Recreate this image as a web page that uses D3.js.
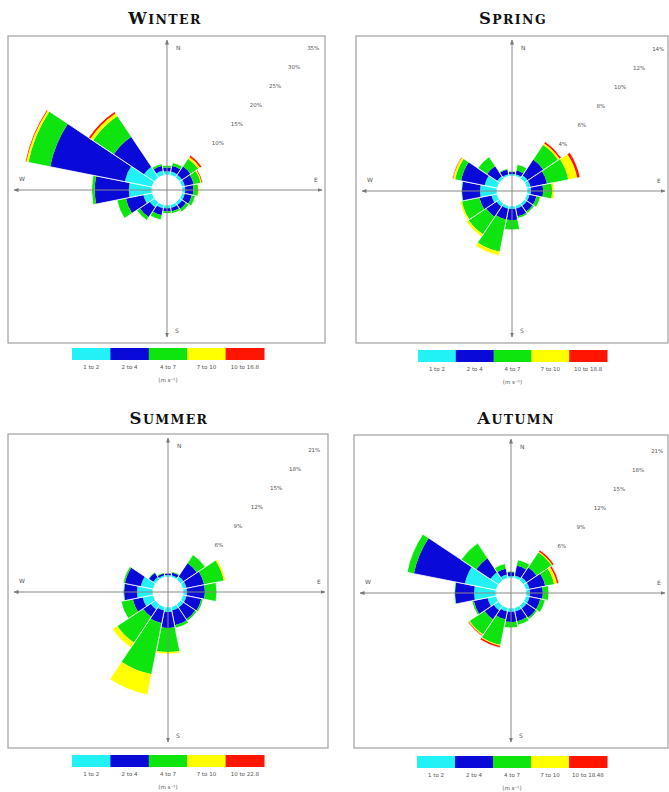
<!DOCTYPE html>
<html>
<head>
<meta charset="utf-8">
<script src="https://cdn.jsdelivr.net/npm/d3@7"></script>
<style>
  html, body { margin: 0; padding: 0; background: #fff; }
  svg { display: block; }
</style>
</head>
<body>
<svg id="chart" width="669" height="792"></svg>
<script>
// ---------------- DATA ----------------
const directions = ["N","NNE","NE","ENE","E","ESE","SE","SSE","S","SSW","SW","WSW","W","WNW","NW","NNW"];
const speedClasses = ["1 to 2","2 to 4","4 to 7","7 to 10"];
const classColors = ["#22f2f6","#0a0ad8","#0ee40e","#ffff00","#ff1500"];

// frequency (%) per direction, per speed class [1-2, 2-4, 4-7, 7-10, >=10]
const winter = [
  [0.7,0.7,0.4,0,0],[0.7,1.1,0.6,0,0],[0.6,1.9,1.7,0.4,0.4],[0.6,1.7,1.3,0.2,0.2],
  [0.6,1.5,0.9,0.2,0],[0.6,1.3,0.7,0,0],[0.6,0.9,0.6,0,0],[0.6,0.7,0.4,0,0],
  [0.6,0.6,0.4,0,0],[0.7,1.3,0.9,0,0],[1.1,2.2,0.7,0,0],[1.7,3.3,1.7,0,0],
  [4.3,6.3,0.6,0,0],[5.2,14.1,4.1,0.4,0.2],[2.4,6.7,4.6,0.6,0.4],[0.9,0.9,0.4,0,0]
];
const spring = [
  [0.15,0.15,0.07,0,0],[0.15,0.3,0.45,0,0],[0.3,1.4,1.3,0.15,0.15],[0.3,1.25,1.6,0.67,0.22],
  [0.3,0.9,0.67,0.15,0],[0.22,0.52,0.3,0,0],[0.22,0.52,0.15,0,0],[0.22,0.6,0.15,0,0],
  [0.22,0.82,0.74,0,0],[0.22,0.82,2.44,0.3,0],[0.3,0.9,1.55,0.22,0],[0.45,0.9,1.33,0.15,0],
  [1.26,1.33,0.07,0,0],[0.96,1.78,0.45,0.15,0.07],[0.22,0.9,0.82,0,0],[0.15,0.37,0.07,0,0]
];
const summer = [
  [0.22,0.22,0,0,0],[0.22,0.33,0.11,0,0],[0.44,1.78,1.11,0,0],[0.44,2.0,2.22,0.22,0],
  [0.44,2.0,1.33,0,0],[0.44,1.67,0.22,0,0],[0.44,1.56,0.22,0,0],[0.44,1.67,0.33,0,0],
  [0.56,1.78,2.67,0.22,0],[0.44,1.44,5.78,2.33,0],[0.67,1.0,3.44,0.67,0],[1.22,1.11,1.33,0,0],
  [1.78,1.44,0.11,0,0],[1.44,1.78,0.22,0,0],[0.33,0.56,0.11,0,0],[0.22,0.22,0.11,0,0]
];
const autumn = [
  [0.22,0.44,0.11,0,0],[0.33,1.11,0.67,0,0],[0.44,1.33,2.0,0.11,0.22],[0.44,1.78,1.0,0.33,0.22],
  [0.44,1.44,0.67,0,0],[0.44,1.22,0.56,0,0],[0.44,1.22,0.22,0,0],[0.44,1.11,0.44,0,0],
  [0.44,1.11,0.67,0,0],[0.44,0.89,2.89,0.11,0.22],[0.67,1.22,2.0,0.11,0.11],[1.0,1.56,0.22,0,0],
  [2.44,2.11,0.11,0,0],[3.56,5.78,0.78,0,0],[1.11,1.89,2.0,0,0],[0.44,0.67,0.56,0,0]
];

const seasonNames = ["Winter","Spring","Summer","Autumn"];
const seasonData = [winter, spring, summer, autumn];
const ringSteps = [5, 2, 3, 3];                 // % per ring
const ringLabelIdx = [2,3,4,5,6,7];             // rings that carry a label
const topClassLabel = ["10 to 16.8","10 to 18.8","10 to 22.8","10 to 18.48"];
const unitLabel = "(m s\u207B\u00B9)";

// ---------------- LAYOUT ----------------
const panels = [
  {l:8,   r:325, t:36,  b:343, cx:167, cy:190, title:[165,24],  leg:{x0:72,  x1:264, y:348}},
  {l:356, r:668, t:36,  b:343, cx:512, cy:191, title:[513,24],  leg:{x0:418, x1:607, y:350}},
  {l:8,   r:328, t:434, b:748, cx:168, cy:592, title:[169,424], leg:{x0:72,  x1:264, y:755}},
  {l:354, r:668, t:435, b:748, cx:511, cy:593, title:[516,424], leg:{x0:417, x1:607, y:756}}
];
const holeR = 15, ringPx = 27;

const svg = d3.select("#chart");
const defs = svg.append("defs");
defs.append("marker").attr("id","arr").attr("viewBox","0 0 10 10")
  .attr("refX",9).attr("refY",5).attr("markerWidth",5).attr("markerHeight",5)
  .attr("orient","auto-start-reverse")
  .append("path").attr("d","M0,1 L10,5 L0,9 Z").attr("fill","#777");

const arc = d3.arc();
const angStep = 2*Math.PI/directions.length;

panels.forEach((p, k) => {
  const g = svg.append("g");
  const data = seasonData[k];
  const s = ringSteps[k];
  const rScale = d3.scaleLinear().domain([0, 7*s]).range([holeR, holeR + 7*ringPx]);
  const angle = d3.scaleLinear().domain([0, directions.length]).range([0, 2*Math.PI]);

  // title
  const tt = g.append("text").attr("x", p.title[0]).attr("y", p.title[1])
    .attr("text-anchor","middle").attr("font-family","'DejaVu Serif', 'Liberation Serif', serif")
    .attr("font-weight","bold").attr("fill","#111").attr("letter-spacing",1.4);
  const name = seasonNames[k];
  tt.append("tspan").attr("font-size",16.5).text(name[0]);
  tt.append("tspan").attr("font-size",12.5).text(name.slice(1).toUpperCase());

  // frame
  g.append("rect").attr("x",p.l).attr("y",p.t).attr("width",p.r-p.l).attr("height",p.b-p.t)
    .attr("fill","#fff").attr("stroke","#a0a0a0").attr("stroke-width",1.2);

  // petals
  const pg = g.append("g").attr("transform",`translate(${p.cx},${p.cy})`);
  data.forEach((vals, i) => {
    let cum = 0;
    const a0 = angle(i) - angStep/2, a1 = angle(i) + angStep/2;
    vals.forEach((v, c) => {
      if (v <= 0) return;
      const inner = rScale(cum);
      cum += v;
      const outer = rScale(cum);
      pg.append("path")
        .attr("d", arc({innerRadius: inner, outerRadius: outer, startAngle: a0, endAngle: a1}))
        .attr("fill", classColors[c]);
    });
    // thin white separators
    pg.append("path")
      .attr("d", arc({innerRadius: holeR, outerRadius: rScale(cum), startAngle: a0, endAngle: a1}))
      .attr("fill","none").attr("stroke","#fff").attr("stroke-width",0.8);
  });

  // axes
  g.append("line").attr("x1",p.l+6).attr("x2",p.r-3).attr("y1",p.cy).attr("y2",p.cy)
    .attr("stroke","#888").attr("stroke-width",1)
    .attr("marker-start","url(#arr)").attr("marker-end","url(#arr)");
  g.append("line").attr("x1",p.cx).attr("x2",p.cx).attr("y1",p.t+4).attr("y2",p.b-6)
    .attr("stroke","#888").attr("stroke-width",1)
    .attr("marker-start","url(#arr)").attr("marker-end","url(#arr)");

  const lab = (x,y,t) => g.append("text").attr("x",x).attr("y",y).text(t)
    .attr("font-family","'DejaVu Sans', sans-serif").attr("font-size",6).attr("fill","#555");
  lab(p.cx+9, p.t+14, "N");
  lab(p.l+11, p.cy-9, "W");
  lab(p.r-11, p.cy-8, "E");
  lab(p.cx+8, p.b-10, "S");

  // ring labels along NE diagonal
  ringLabelIdx.forEach(ri => {
    const r = rScale(ri*s);
    const x = p.cx + r*Math.SQRT1_2, y = p.cy - r*Math.SQRT1_2;
    g.append("text").attr("x",x+2).attr("y",y+4).attr("text-anchor","middle")
      .attr("font-family","'DejaVu Sans', sans-serif").attr("font-size",5.5).attr("fill","#555")
      .text(`${ri*s}%`);
  });

  // legend
  const legLabels = speedClasses.concat([topClassLabel[k]]);
  const lx = d3.scaleBand().domain(d3.range(5)).range([p.leg.x0, p.leg.x1]);
  const lg = g.append("g");
  lg.selectAll("rect").data(d3.range(5)).join("rect")
    .attr("x", d => lx(d)).attr("y", p.leg.y).attr("width", lx.bandwidth()+0.5).attr("height", 12)
    .attr("fill", d => classColors[d]);
  lg.selectAll("text.cl").data(legLabels).join("text").attr("class","cl")
    .attr("x", (d,i) => lx(i) + lx.bandwidth()/2).attr("y", p.leg.y + 21)
    .attr("text-anchor","middle").attr("font-family","'DejaVu Sans', sans-serif")
    .attr("font-size",5.5).attr("fill","#555").text(d => d);
  lg.append("text").attr("x", lx(2) + lx.bandwidth()/2).attr("y", p.leg.y + 34)
    .attr("text-anchor","middle").attr("font-family","'DejaVu Sans', sans-serif")
    .attr("font-size",5.5).attr("fill","#555").text(unitLabel);
});
</script>
</body>
</html>
